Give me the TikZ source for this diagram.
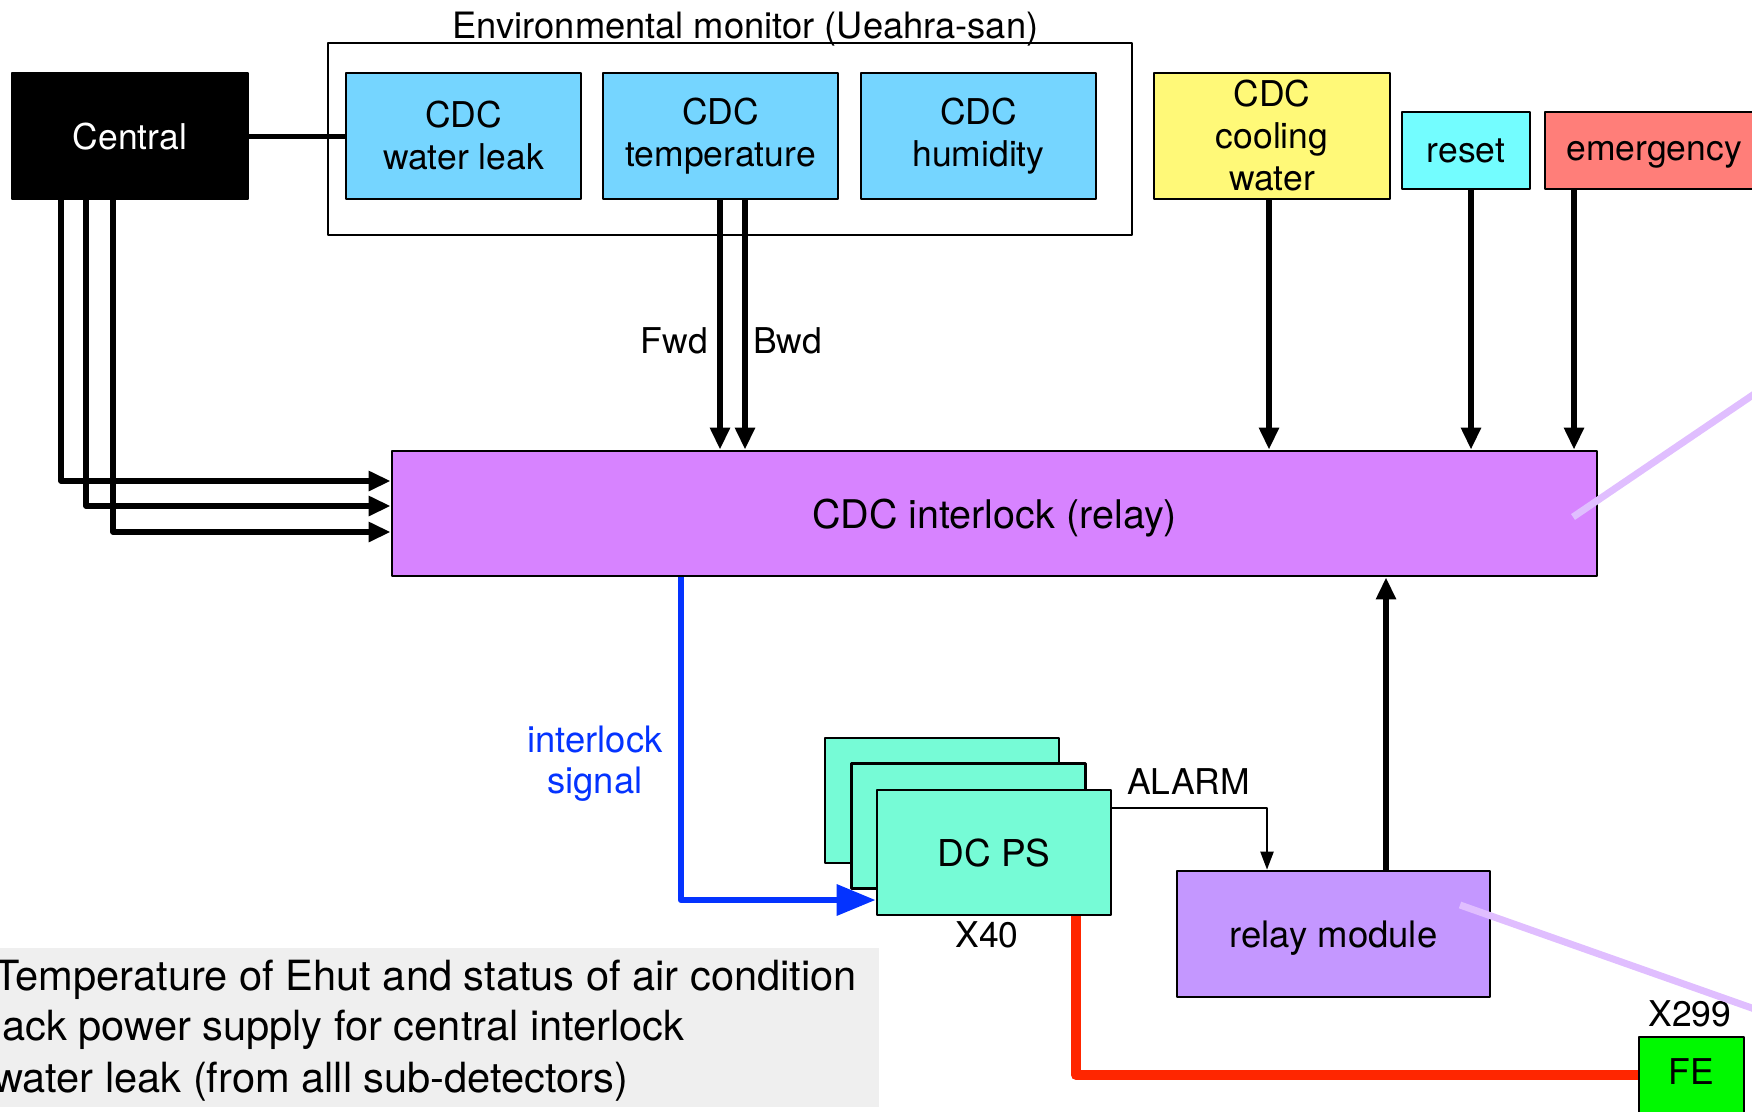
\documentclass[tikz,border=0pt]{standalone}
\usepackage{fontspec}
\setmainfont{TeX Gyre Heros}
\usetikzlibrary{arrows.meta,calc}
\definecolor{cdcblue}{HTML}{75D5FF}
\definecolor{coolyellow}{HTML}{FFF978}
\definecolor{resetcyan}{HTML}{73FDFF}
\definecolor{emred}{HTML}{FF7E79}
\definecolor{ilpurple}{HTML}{D783FF}
\definecolor{psgreen}{HTML}{76FBD6}
\definecolor{relaypurple}{HTML}{C497FF}
\definecolor{fegreen}{HTML}{00F900}
\definecolor{lav}{HTML}{E0BEFF}
\definecolor{sigblue}{HTML}{0433FF}
\definecolor{pwrred}{HTML}{FF2600}
\definecolor{notegray}{HTML}{EFEFEF}
\newcommand\mainfs{\fontsize{35.5}{42}\selectfont}
\newcommand\bigfs{\fontsize{39.5}{46}\selectfont}
\newcommand\titlefs{\fontsize{36.3}{42}\selectfont}
\newcommand\notefs{\fontsize{41.6}{49}\selectfont}
\begin{document}
\begin{tikzpicture}[x=1pt,y=-1pt,line join=round,
  blk/.style={draw=black, line width=2.7pt, rectangle, inner sep=0pt, font=\mainfs, align=center},
  one/.style={text depth=0pt},
  lbl/.style={inner sep=0pt, font=\mainfs},
  notetxt/.style={inner sep=0pt, font=\notefs, anchor=base west},
  link/.style={line width=5pt},
  fatarrow/.style={line width=5.5pt, -{Triangle[length=22pt,width=19pt]}},
  thinarrow/.style={line width=2.2pt, -{Triangle[length=18pt,width=13pt]}},
  sigline/.style={line width=6.5pt, draw=sigblue, -{Triangle[length=39pt,width=30pt]}},
  pwrline/.style={line width=10pt, draw=pwrred},
  lavline/.style={line width=7pt, draw=lav}
]
\useasboundingbox (0,0) rectangle (1752,1111);
\clip (0,0) rectangle (1752,1111);

% environmental monitor frame
\node[draw=black, line width=2.5pt, minimum width=804pt, minimum height=192pt, inner sep=0pt] (env) at (730,139) {};
\node[inner sep=0pt, font=\titlefs, anchor=base] (envtitle) at (745.5,38) {Environmental monitor (Ueahra-san)};

% top row
\node[blk, one, fill=black, text=white, minimum width=236pt, minimum height=126pt] (central) at (130,136) {Central};
\node[blk, fill=cdcblue, minimum width=235pt, minimum height=126pt] (wl) at (463.5,136) {CDC\\water leak};
\node[blk, fill=cdcblue, minimum width=235pt, minimum height=126pt] (temp) at (720.5,136) {CDC\\temperature};
\node[blk, fill=cdcblue, minimum width=235pt, minimum height=126pt] (hum) at (978.5,136) {CDC\\humidity};
\node[blk, fill=coolyellow, minimum width=236pt, minimum height=126pt] (cool) at (1272,136) {CDC\\cooling\\water};
\node[blk, one, fill=resetcyan, minimum width=128pt, minimum height=77pt] (reset) at (1466,150.5) {reset};
\node[blk, one, fill=emred, minimum width=218pt, minimum height=77pt] (emerg) at (1654,150.5) {emergency};

% interlock
\node[blk, one, font=\bigfs, fill=ilpurple, minimum width=1205pt, minimum height=125pt] (interlock) at (994.5,513.5) {CDC interlock (relay)};

% DC PS stack
\node[blk, fill=psgreen, minimum width=234pt, minimum height=125pt] (dc1) at (942,800.5) {};
\node[blk, fill=psgreen, minimum width=234pt, minimum height=125pt] (dc2) at (968.5,826) {};
\node[blk, one, fill=psgreen, minimum width=234pt, minimum height=125pt, font=\fontsize{37}{42}\selectfont] (dc3) at (994,852.5) {DC PS};
\node[lbl, anchor=center] (x40) at (987,935) {X40};

% relay module
\node[blk, one, fill=relaypurple, minimum width=313pt, minimum height=126pt, font=\fontsize{36.5}{42}\selectfont] (relay) at (1333.5,934) {relay module};

% FE
\node[blk, fill=fegreen, minimum width=105pt, minimum height=78pt] (fe) at (1691.5,1076) {};
\node[lbl] (fetxt) at (1691.5,1072) {FE};
\node[lbl] (x299) at (1690,1014) {X299};

% note panel
\node[fill=notegray, minimum width=884pt, minimum height=159pt, inner sep=0pt, anchor=north west] (note) at (-5,948) {};
\node[notetxt] (note1) at (-6,990) {Temperature of Ehut and status of air condition};
\node[notetxt] (note2) at (2,1040) {ack power supply for central interlock};
\node[notetxt] (note3) at (-7,1092) {water leak (from alll sub-detectors)};

% coordinates for connectors
\coordinate (ca) at (61,481);
\coordinate (cb) at (86,506);
\coordinate (cc) at (113,532);
\coordinate (fx) at (720,0);
\coordinate (bx) at (745,0);
\coordinate (coolx) at (1269,0);
\coordinate (resetx) at (1471,0);
\coordinate (emx) at (1574,0);
\coordinate (relx) at (1386,0);
\coordinate (bturn) at (681,900);
\coordinate (rturn) at (1076,1075);
\coordinate (aturn) at (1267,808);
\coordinate (lavA0) at (1573,517);
\coordinate (lavA1) at (1800,363);
\coordinate (lavB0) at (1460,905);
\coordinate (lavB1) at (1800,1025);

% central connections
\draw[link] (central.east) -- (wl.west);
\draw[fatarrow] (central.south -| ca) -- (ca) -- (interlock.west |- ca);
\draw[fatarrow] (central.south -| cb) -- (cb) -- (interlock.west |- cb);
\draw[fatarrow] (central.south -| cc) -- (cc) -- (interlock.west |- cc);

% top inputs
\draw[fatarrow] (temp.south -| fx) -- (interlock.north -| fx);
\draw[fatarrow] (temp.south -| bx) -- (interlock.north -| bx);
\node[lbl, anchor=base east] (fwd) at (708,353) {Fwd};
\node[lbl, anchor=base west] (bwd) at (753,353) {Bwd};
\draw[fatarrow] (cool.south -| coolx) -- (interlock.north -| coolx);
\draw[fatarrow] (reset.south -| resetx) -- (interlock.north -| resetx);
\draw[fatarrow] (emerg.south -| emx) -- (interlock.north -| emx);

% interlock signal
\draw[sigline] (interlock.south -| bturn) -- (bturn) -- (dc3.west |- bturn);
\node[inner sep=0pt, font=\fontsize{36.4}{42}\selectfont, anchor=base, text=sigblue] (sig1) at (595,752) {interlock};
\node[inner sep=0pt, font=\fontsize{36.4}{42}\selectfont, anchor=base, text=sigblue] (sig2) at (595,793) {signal};

% alarm
\draw[thinarrow] (dc3.east |- aturn) -- (aturn) -- (aturn |- relay.north);
\node[lbl, anchor=base west] (alarm) at (1127,794) {ALARM};

% relay to interlock
\draw[fatarrow] (relay.north -| relx) -- (interlock.south -| relx);

% power to FE
\draw[pwrline] (dc3.south -| rturn) -- (rturn) -- (fe.west |- rturn);

% lavender pointer lines
\draw[lavline] (lavA0) -- (lavA1);
\draw[lavline] (lavB0) -- (lavB1);
\end{tikzpicture}
\end{document}
